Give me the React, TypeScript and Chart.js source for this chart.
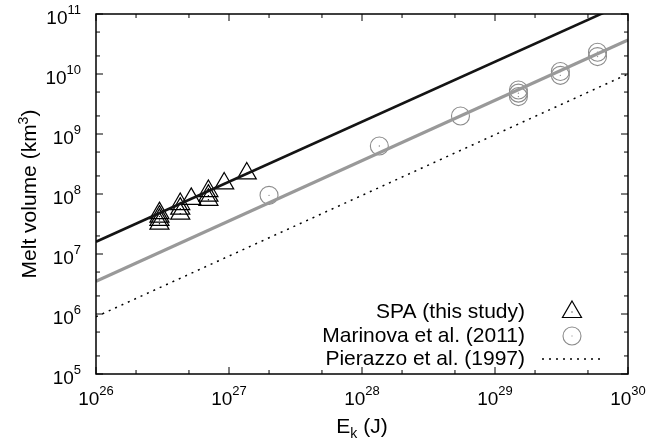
import React, { useEffect, useRef } from 'react';
import { Chart, registerables } from 'chart.js';
Chart.register(...registerables);

// ---- data ----
const spaEnergy = [3e26, 3e26, 3e26, 3e26, 4.3e26, 4.3e26, 4.3e26, 5.2e26, 7e26, 7e26, 7e26, 9.2e26, 1.36e27];
const spaVolume = [4.8e7, 4.2e7, 3.7e7, 3.2e7, 6.8e7, 5.7e7, 4.7e7, 8.3e7, 1.12e8, 9.4e7, 8e7, 1.5e8, 2.2e8];
const marinovaEnergy = [2e27, 1.35e28, 5.5e28, 1.5e29, 1.5e29, 1.5e29, 3.1e29, 3.1e29, 5.9e29, 5.9e29];
const marinovaVolume = [9.5e7, 6.3e8, 2e9, 4.2e9, 4.8e9, 5.4e9, 9.5e9, 1.1e10, 1.95e10, 2.3e10];
const fitEnergy = [1e26, 1e30];
const spaFit = [1.6e7, 1.6e11];
const marinovaFit = [3.5e6, 3.7e10];
const pierazzoFit = [9e5, 1e10];
const xExponents = [26, 27, 28, 29, 30];
const yExponents = [5, 6, 7, 8, 9, 10, 11];
const minorMultipliers = [2, 5];
const legendLabels = ['SPA (this study)', 'Marinova et al. (2011)', 'Pierazzo et al. (1997)'];
const xTitleParts = ['E', 'k', ' (J)'];
const yTitleParts = ['Melt volume (km', '3', ')'];

const FONT = '"Liberation Sans", Arial, sans-serif';
const pts = (xs: number[], ys: number[]) => xs.map((x, i) => ({ x, y: ys[i] }));

const decor = {
  id: 'decor',
  afterDraw(chart: any) {
    const { ctx, chartArea: a, scales } = chart;
    const xs = scales.x, ys = scales.y;
    ctx.save();
    // frame
    ctx.strokeStyle = '#000';
    ctx.lineWidth = 1.5;
    ctx.strokeRect(a.left, a.top, a.right - a.left, a.bottom - a.top);
    // ticks
    ctx.lineWidth = 1;
    const vt = (px: number, len: number) => {
      ctx.beginPath();
      ctx.moveTo(px, a.bottom); ctx.lineTo(px, a.bottom - len);
      ctx.moveTo(px, a.top); ctx.lineTo(px, a.top + len);
      ctx.stroke();
    };
    const ht = (py: number, len: number) => {
      ctx.beginPath();
      ctx.moveTo(a.left, py); ctx.lineTo(a.left + len, py);
      ctx.moveTo(a.right, py); ctx.lineTo(a.right - len, py);
      ctx.stroke();
    };
    xExponents.forEach((e, i) => {
      vt(xs.getPixelForValue(Math.pow(10, e)), 7);
      if (i < xExponents.length - 1) minorMultipliers.forEach(m => vt(xs.getPixelForValue(m * Math.pow(10, e)), 4));
    });
    yExponents.forEach((e, i) => {
      ht(ys.getPixelForValue(Math.pow(10, e)), 7);
      if (i < yExponents.length - 1) minorMultipliers.forEach(m => ht(ys.getPixelForValue(m * Math.pow(10, e)), 4));
    });
    // tick labels
    const base = `19px ${FONT}`, sup = `13px ${FONT}`;
    ctx.fillStyle = '#000';
    ctx.textBaseline = 'alphabetic';
    ctx.textAlign = 'left';
    xExponents.forEach(e => {
      const px = xs.getPixelForValue(Math.pow(10, e));
      ctx.font = base; const w1 = ctx.measureText('10').width;
      ctx.font = sup; const w2 = ctx.measureText(String(e)).width;
      const x0 = px - (w1 + w2) / 2;
      ctx.font = base; ctx.fillText('10', x0, a.bottom + 31);
      ctx.font = sup; ctx.fillText(String(e), x0 + w1, a.bottom + 21);
    });
    yExponents.forEach(e => {
      const py = ys.getPixelForValue(Math.pow(10, e));
      ctx.font = base; const w1 = ctx.measureText('10').width;
      ctx.font = sup; const w2 = ctx.measureText(String(e)).width;
      const x1 = a.left - 15;
      const x0 = x1 - w1 - w2;
      ctx.font = base; ctx.fillText('10', x0, py + 10);
      ctx.font = sup; ctx.fillText(String(e), x0 + w1, py);
    });
    // axis titles
    const tf = `21px ${FONT}`, sf = `14px ${FONT}`;
    ctx.font = tf; const wE = ctx.measureText(xTitleParts[0]).width; const wJ = ctx.measureText(xTitleParts[2]).width;
    ctx.font = sf; const wk = ctx.measureText(xTitleParts[1]).width;
    const cx = (a.left + a.right) / 2;
    let xx = cx - (wE + wk + wJ) / 2;
    const by = 433;
    ctx.font = tf; ctx.fillText(xTitleParts[0], xx, by); xx += wE;
    ctx.font = sf; ctx.fillText(xTitleParts[1], xx, by + 5); xx += wk;
    ctx.font = tf; ctx.fillText(xTitleParts[2], xx, by);
    // y title with superscript
    ctx.save();
    ctx.translate(36, (a.top + a.bottom) / 2);
    ctx.rotate(-Math.PI / 2);
    ctx.textAlign = 'left'; ctx.textBaseline = 'alphabetic';
    ctx.font = tf; const w0 = ctx.measureText(yTitleParts[0]).width; const w2y = ctx.measureText(yTitleParts[2]).width;
    ctx.font = sf; const w1y = ctx.measureText(yTitleParts[1]).width;
    let yy = -(w0 + w1y + w2y) / 2;
    ctx.font = tf; ctx.fillText(yTitleParts[0], yy, 0); yy += w0;
    ctx.font = sf; ctx.fillText(yTitleParts[1], yy, -8); yy += w1y;
    ctx.font = tf; ctx.fillText(yTitleParts[2], yy, 0);
    ctx.restore();
    // legend
    const rows = [312, 336, 359];
    ctx.font = `21px ${FONT}`;
    ctx.textAlign = 'right'; ctx.textBaseline = 'middle';
    legendLabels.forEach((t, i) => ctx.fillText(t, 525, rows[i]));
    const sx = 572;
    const r = 11;
    ctx.strokeStyle = '#000'; ctx.lineWidth = 1.2;
    ctx.beginPath();
    ctx.moveTo(sx, rows[0] - r);
    ctx.lineTo(sx + r * Math.sin(2 * Math.PI / 3), rows[0] - r * Math.cos(2 * Math.PI / 3));
    ctx.lineTo(sx + r * Math.sin(4 * Math.PI / 3), rows[0] - r * Math.cos(4 * Math.PI / 3));
    ctx.closePath(); ctx.stroke();
    ctx.fillStyle = '#000'; ctx.fillRect(sx - 0.5, rows[0] - 0.5, 1, 1);
    ctx.strokeStyle = '#8c8c8c'; ctx.lineWidth = 1.1;
    ctx.beginPath(); ctx.arc(sx, rows[1], 9, 0, Math.PI * 2); ctx.stroke();
    ctx.fillStyle = '#888'; ctx.fillRect(sx - 0.5, rows[1] - 0.5, 1, 1);
    ctx.strokeStyle = '#000'; ctx.lineWidth = 1.5; ctx.setLineDash([2, 5]);
    ctx.beginPath(); ctx.moveTo(542, rows[2]); ctx.lineTo(602, rows[2]); ctx.stroke();
    ctx.setLineDash([]);
    ctx.restore();
  },
};

export default function App() {
  const ref = useRef<HTMLCanvasElement | null>(null);
  useEffect(() => {
    if (!ref.current) return;
    const chart = new Chart(ref.current, {
      type: 'scatter',
      data: {
        datasets: [
          { label: 'spaFit', data: pts(fitEnergy, spaFit), showLine: true, borderColor: '#141414', borderWidth: 2.6, pointRadius: 0 },
          { label: 'marinovaFit', data: pts(fitEnergy, marinovaFit), showLine: true, borderColor: '#999999', borderWidth: 3.2, pointRadius: 0 },
          { label: 'pierazzoFit', data: pts(fitEnergy, pierazzoFit), showLine: true, borderColor: '#000', borderWidth: 1.5, borderDash: [2, 5], pointRadius: 0 },
          { label: 'spaDots', data: pts(spaEnergy, spaVolume), pointStyle: 'circle', pointRadius: 0.7, backgroundColor: '#000', borderWidth: 0 },
          { label: 'SPA', data: pts(spaEnergy, spaVolume), pointStyle: 'triangle', pointRadius: 11, borderColor: '#000', borderWidth: 1.2, backgroundColor: 'rgba(0,0,0,0)' },
          { label: 'marDots', data: pts(marinovaEnergy, marinovaVolume), pointStyle: 'circle', pointRadius: 0.7, backgroundColor: '#888', borderWidth: 0 },
          { label: 'Marinova', data: pts(marinovaEnergy, marinovaVolume), pointStyle: 'circle', pointRadius: 9, borderColor: '#8c8c8c', borderWidth: 1.1, backgroundColor: 'rgba(0,0,0,0)' },
        ],
      },
      options: {
        animation: false,
        responsive: false,
        devicePixelRatio: 1,
        layout: { padding: { top: 14, right: 31, left: 0, bottom: 0 } },
        plugins: { legend: { display: false }, tooltip: { enabled: false } },
        scales: {
          x: {
            type: 'logarithmic', min: 1e26, max: 1e30,
            ticks: { display: false }, grid: { display: false, drawTicks: false }, border: { display: false },
            afterFit: (s: any) => { s.height = 67; },
          },
          y: {
            type: 'logarithmic', min: 1e5, max: 1e11,
            ticks: { display: false }, grid: { display: false, drawTicks: false }, border: { display: false },
            afterFit: (s: any) => { s.width = 96; },
          },
        },
      },
      plugins: [decor],
    } as any);
    return () => chart.destroy();
  }, []);
  return (
    <div style={{ position: 'fixed', left: 0, top: 0, width: 659, height: 441, background: '#fff' }}>
      <canvas ref={ref} width={659} height={441} style={{ display: 'block' }} />
    </div>
  );
}
